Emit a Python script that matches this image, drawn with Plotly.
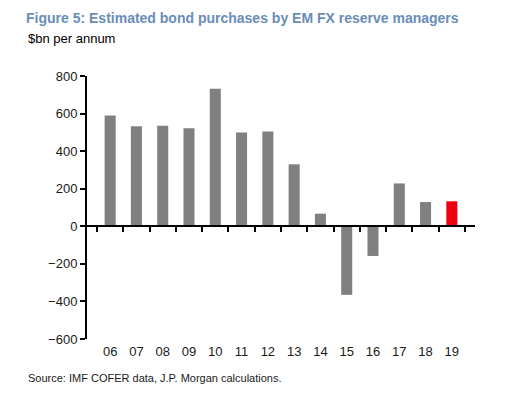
import plotly.graph_objects as go

years = ["06", "07", "08", "09", "10", "11", "12", "13", "14", "15", "16", "17", "18", "19"]
purchases = [590, 533, 535, 522, 732, 499, 504, 330, 67, -365, -158, 228, 129, 133]
bar_colors = ["#808080"] * 13 + ["#ee0010"]
y_ticks = [-600, -400, -200, 0, 200, 400, 600, 800]

y_min, y_max = -600, 800
zero_pos = (0 - y_min) / (y_max - y_min)

# page body has an 8px default margin; figure is sized to fit inside the window
OFF = 8
W, H = 527 - OFF, 396 - OFF
L, T, PW, PH = 87 - OFF, 76 - OFF, 388, 263

fig = go.Figure()
fig.add_trace(go.Bar(x=years, y=purchases, marker_color=bar_colors, marker_line_width=0,
                     xaxis="x", yaxis="y", showlegend=False))
fig.add_trace(go.Scatter(x=years, y=[0] * len(years), mode="markers", marker_opacity=0,
                         xaxis="x2", yaxis="y", showlegend=False, hoverinfo="skip"))

font = "Liberation Sans, Arial, sans-serif"
fig.update_layout(
    width=W, height=H,
    margin=dict(l=L, r=W - L - PW, t=T, b=H - T - PH),
    paper_bgcolor="white", plot_bgcolor="white",
    bargap=0.58,
    font=dict(family=font, size=13, color="#1a1a1a"),
    title=dict(text="<b>Figure 5: Estimated bond purchases by EM FX reserve managers</b>",
               x=(26 - OFF) / W, xref="container", xanchor="left",
               y=1 - (18 - OFF) / H, yref="container", yanchor="middle",
               font=dict(family=font, size=14, color="#6a8db8")),
    xaxis=dict(type="category", anchor="free", position=zero_pos,
               showline=True, linecolor="black", linewidth=2,
               ticks="outside", ticklen=5, tickwidth=2, tickcolor="black",
               tickson="boundaries", showticklabels=False, showgrid=False, zeroline=False),
    xaxis2=dict(type="category", overlaying="x", matches="x", anchor="y", side="bottom",
                showline=False, ticks="", showgrid=False, zeroline=False,
                showticklabels=True, ticklabelstandoff=3,
                tickfont=dict(family=font, size=13, color="#1a1a1a")),
    yaxis=dict(range=[y_min, y_max], tickvals=y_ticks, showline=True, linecolor="black",
               linewidth=2, ticks="outside", ticklen=5, tickwidth=2, tickcolor="black",
               showgrid=False, zeroline=False,
               tickfont=dict(family=font, size=13, color="#1a1a1a")),
    annotations=[
        dict(text="$bn per annum", xref="paper", yref="paper",
             x=(26 - 87) / PW, y=1 + (76 - 38) / PH, xanchor="left", yanchor="middle",
             showarrow=False, font=dict(family=font, size=13, color="black")),
        dict(text="Source: IMF COFER data, J.P. Morgan calculations.", xref="paper", yref="paper",
             x=(26 - 87) / PW, y=-(378 - 339) / PH, xanchor="left", yanchor="middle",
             showarrow=False, font=dict(family=font, size=11, color="#1a1a1a")),
    ],
)

fig.write_html("out.html")
